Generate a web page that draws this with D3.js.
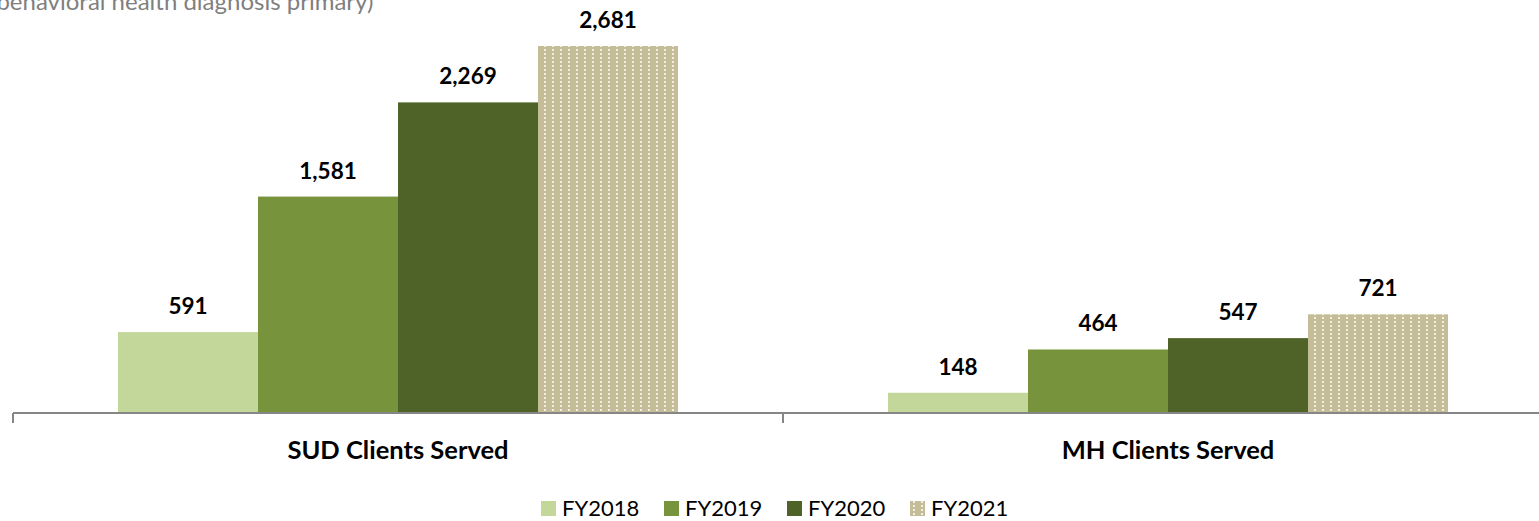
<!DOCTYPE html>
<html>
<head>
<meta charset="utf-8">
<script src="https://cdn.jsdelivr.net/npm/d3@7"></script>
<style>
  body { margin: 0; background: #fff; overflow: hidden; }
  svg { display: block; font-family: Lato, "Open Sans", sans-serif; }
</style>
</head>
<body>
<script>
var categories = ["SUD Clients Served", "MH Clients Served"];
var years = ["FY2018", "FY2019", "FY2020", "FY2021"];
var sud = [591, 1581, 2269, 2681];
var mh = [148, 464, 547, 721];
var colors = ["#C4D79B", "#77933C", "#4F6228", "#C4BD97"];

var width = 1539, height = 521;
var svg = d3.select("body").append("svg")
    .attr("width", width)
    .attr("height", height);

// dotted fill for the last series
var pat = svg.append("defs").append("pattern")
    .attr("id", "dots")
    .attr("patternUnits", "userSpaceOnUse")
    .attr("width", 8).attr("height", 4);
pat.append("rect").attr("width", 8).attr("height", 4).attr("fill", colors[3]);
pat.append("rect").attr("x", 3).attr("y", 1).attr("width", 2).attr("height", 2)
    .attr("fill", "#fff").attr("opacity", 0.75);

// title (partially cut off at the top, as in the source)
svg.append("text")
    .attr("x", -10).attr("y", 10)
    .attr("fill", "#7f7f7f")
    .attr("font-size", 24)
    .text("(behavioral health diagnosis primary)");

var x0 = d3.scaleBand().domain(categories).range([13, 1553]);
var x1 = d3.scaleBand().domain(years).range([0, x0.bandwidth()]).paddingOuter(0.75).paddingInner(0);
var y = d3.scaleLinear().domain([0, 2681]).range([413, 46]);

var data = categories.map(function (c, i) {
    var vals = i === 0 ? sud : mh;
    return { cat: c, vals: years.map(function (yr, j) { return { year: yr, v: vals[j], j: j }; }) };
});

var g = svg.selectAll(".grp").data(data).enter().append("g")
    .attr("transform", function (d) { return "translate(" + x0(d.cat) + ",0)"; });

g.selectAll("rect").data(function (d) { return d.vals; }).enter().append("rect")
    .attr("x", function (d) { return x1(d.year); })
    .attr("width", x1.bandwidth())
    .attr("y", function (d) { return y(d.v); })
    .attr("height", function (d) { return 413 - y(d.v); })
    .attr("fill", function (d) { return d.j === 3 ? "url(#dots)" : colors[d.j]; });

g.selectAll(".lbl").data(function (d) { return d.vals; }).enter().append("text")
    .attr("class", "lbl")
    .attr("x", function (d) { return x1(d.year) + x1.bandwidth() / 2; })
    .attr("y", function (d) { return y(d.v) - 18; })
    .attr("text-anchor", "middle")
    .attr("font-weight", "bold")
    .attr("font-size", 22.5)
    .attr("fill", "#000")
    .text(function (d) { return d3.format(",")(d.v); });

// axis
var axis = svg.append("g").attr("transform", "translate(0,413)");
axis.append("line").attr("x1", 13).attr("x2", 1553).attr("stroke", "#868686").attr("stroke-width", 2);
axis.selectAll(".tick").data([13, 783, 1553]).enter().append("line")
    .attr("x1", function (d) { return d; }).attr("x2", function (d) { return d; })
    .attr("y1", 0).attr("y2", 10)
    .attr("stroke", "#868686").attr("stroke-width", 2);

svg.selectAll(".cat").data(categories).enter().append("text")
    .attr("x", function (d) { return x0(d) + x0.bandwidth() / 2; })
    .attr("y", 459)
    .attr("text-anchor", "middle")
    .attr("font-weight", "bold")
    .attr("font-size", 25.5)
    .text(function (d) { return d; });

// legend
var leg = svg.selectAll(".leg").data(years).enter().append("g")
    .attr("transform", function (d, i) { return "translate(" + (541 + i * 123) + ",500)"; });
leg.append("rect").attr("y", 1).attr("width", 15).attr("height", 15)
    .attr("fill", function (d, i) { return i === 3 ? "url(#dots)" : colors[i]; });
leg.append("text").attr("x", 21).attr("y", 16)
    .attr("font-size", 22)
    .attr("fill", "#000")
    .text(function (d) { return d; });
</script>
</body>
</html>
